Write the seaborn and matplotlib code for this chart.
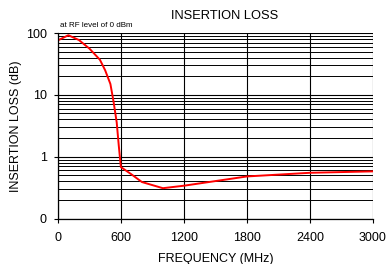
import numpy as np
import pandas as pd
import seaborn as sns
import matplotlib
matplotlib.use('Agg')
import matplotlib.pyplot as plt
from matplotlib.ticker import FixedLocator, LogLocator, NullFormatter

# Data
freq_mhz = [0, 100, 200, 300, 400, 450, 500, 530, 560, 580, 600, 700, 800, 1000, 1200, 1800, 2400, 3000]
loss_db = [76, 92, 77, 56, 37, 25, 15, 7.8, 3.6, 1.5, 0.68, 0.52, 0.39, 0.31, 0.34, 0.48, 0.55, 0.58]
x_ticks = [0, 600, 1200, 1800, 2400, 3000]
y_ticks = [0.1, 1, 10, 100]
y_tick_labels = ['0', '1', '10', '100']

df = pd.DataFrame({'freq': freq_mhz, 'loss': loss_db})

sns.set_style('white')
plt.rcParams['font.family'] = ['Liberation Sans', 'DejaVu Sans']
plt.rcParams['text.color'] = 'black'
plt.rcParams['axes.labelcolor'] = 'black'

fig = plt.figure(figsize=(3.86, 2.64), dpi=100)
ax = fig.add_axes([0.150, 0.172, 0.816, 0.703])

sns.lineplot(data=df, x='freq', y='loss', color='red', linewidth=1.4, ax=ax)

ax.set_yscale('log')
ax.set_ylim(0.1, 100)
ax.set_xlim(0, 3000)

ax.yaxis.set_major_locator(FixedLocator(y_ticks))
ax.set_yticklabels(y_tick_labels)
ax.yaxis.set_minor_locator(LogLocator(base=10, subs=np.arange(2, 10)))
ax.yaxis.set_minor_formatter(NullFormatter())
ax.set_xticks(x_ticks)

ax.grid(True, which='major', axis='both', color='black', linewidth=0.8)
ax.grid(True, which='minor', axis='y', color='black', linewidth=0.7)
ax.set_axisbelow(True)

for side in ['top', 'right']:
    ax.spines[side].set_visible(False)
for side in ['left', 'bottom']:
    ax.spines[side].set_color('black')
    ax.spines[side].set_linewidth(0.9)

ax.tick_params(axis='both', which='major', direction='out', length=3, width=0.8,
               color='black', labelsize=9, labelcolor='black', left=True, bottom=True)
ax.tick_params(axis='x', which='major', pad=7)
ax.tick_params(axis='y', which='major', pad=5)
ax.tick_params(axis='y', which='minor', length=0)

ax.set_xlabel('FREQUENCY (MHz)', fontsize=9, labelpad=6, color='black')
ax.set_ylabel('INSERTION LOSS (dB)', fontsize=9, labelpad=2.5, color='black')
ax.set_title('INSERTION LOSS', fontsize=9.3, pad=10, x=0.53, color='black')
ax.text(0.006, 1.022, 'at RF level of 0 dBm', transform=ax.transAxes, fontsize=5.8,
        ha='left', va='bottom', color='black')

fig.savefig('out.png', dpi=100)
